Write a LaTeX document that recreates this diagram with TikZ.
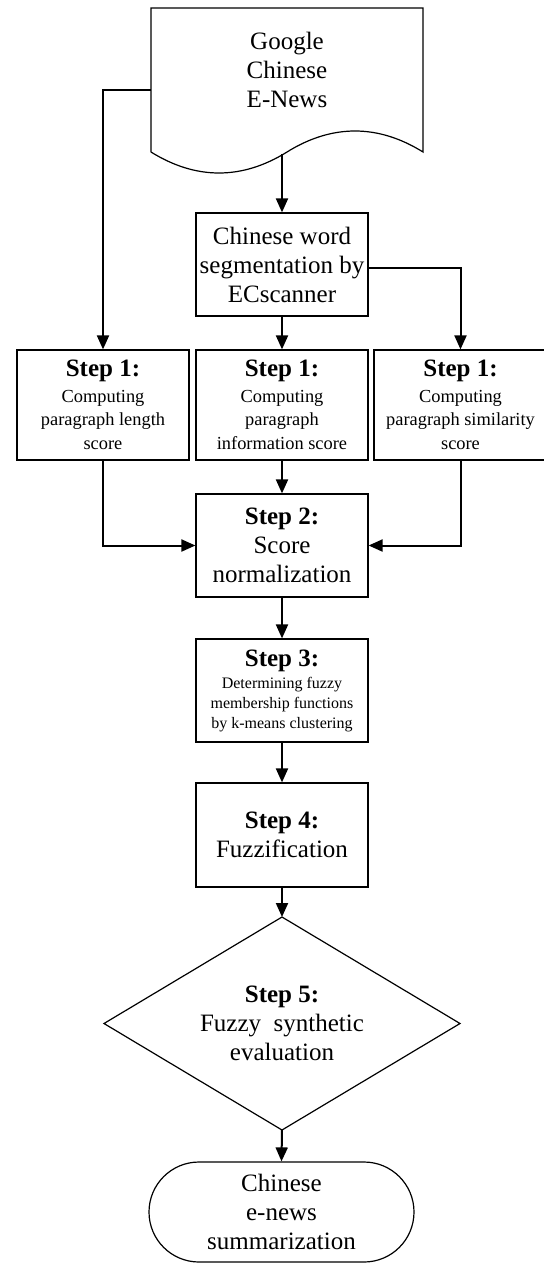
\documentclass[tikz,border=0pt]{standalone}
\usepackage{fontspec}
\setmainfont{Liberation Serif}
\usetikzlibrary{arrows.meta}

\newcommand{\bigtxt}{\fontsize{12.5}{14.5}\selectfont}
\newcommand{\smalltxt}{\fontsize{9.2}{11.8}\selectfont}
\newcommand{\tinytxt}{\fontsize{8}{10}\selectfont}
\newcommand{\steplabel}[1]{{\bigtxt\bfseries #1}}

\begin{document}
\begin{tikzpicture}
    [x = .5pt, y = -.5pt,
     box/.style = {draw, line width = .6pt, inner sep = 0pt, align = center,
                   minimum width = 86pt, minimum height = 51.5pt},
     line/.style = {line width = 1pt, -{Triangle[length = 7pt, width = 6pt]}}]
    \useasboundingbox (0,0) rectangle (544,1264);

    % news document
    \draw[line width = .6pt] (151,152) -- (151,8) -- (423,8) -- (423,152)
      .. controls (378,124) and (332,124) .. (287,152)
      .. controls (242,180) and (196,180) .. (151,152);
    \node[inner sep = 0pt, align = center, font = \bigtxt,
          minimum width = 136pt, minimum height = 72pt] (news) at (287,70)
      {Google\\Chinese\\E-News};
    \coordinate (newsout) at (282,154);

    \node[box, font = \bigtxt] (seg) at (282,264.5)
      {Chinese word\\segmentation by\\ECscanner};

    % step 1
    \node[box, minimum height = 55pt, font = \smalltxt] (len) at (103,405)
      {\steplabel{Step 1:}\\[1pt]Computing\\paragraph length\\score};
    \node[box, minimum height = 55pt, font = \smalltxt] (info) at (282,405)
      {\steplabel{Step 1:}\\[1pt]Computing\\paragraph\\information score};
    \node[box, minimum height = 55pt, minimum width = 86.5pt, font = \smalltxt] (sim) at (460.5,405)
      {\steplabel{Step 1:}\\[1pt]Computing\\paragraph similarity\\score};

    \node[box, font = \bigtxt] (norm) at (282,545.5)
      {\textbf{Step 2:}\\Score\\normalization};
    \node[box, font = \tinytxt] (member) at (282,690.5)
      {\steplabel{Step 3:}\\[1pt]Determining fuzzy\\membership functions\\by k-means clustering};
    \node[box, minimum height = 52pt, font = \bigtxt] (fuzz) at (282,835)
      {\textbf{Step 4:}\\Fuzzification};

    % step 5 decision
    \draw[line width = .6pt] (282,917) coordinate (evaltop) -- (460,1023.5)
      -- (282,1130) coordinate (evalbot) -- (104,1023.5) -- cycle;
    \node[inner sep = 0pt, align = center, font = \bigtxt] (eval) at (282,1023.5)
      {\textbf{Step 5:}\\Fuzzy\ \ synthetic\\evaluation};

    \node[draw, line width = .6pt, rounded corners = 25pt, inner sep = 0pt, align = center,
          font = \bigtxt, minimum width = 132.5pt, minimum height = 50pt] (summ) at (281.5,1212)
      {Chinese\\e-news\\summarization};

    \draw[line] ([yshift = -10pt]news.west) -| (len.north);
    \draw[line] (newsout) -- (seg.north);
    \draw[line] ([yshift = -1.5pt]seg.east) -| (sim.north);
    \draw[line] (seg.south) -- (info.north);
    \draw[line] (len.south) |- (norm.west);
    \draw[line] (sim.south) |- (norm.east);
    \foreach \from/\to in {info/norm, norm/member, member/fuzz}
      \draw[line] (\from.south) -- (\to.north);
    \draw[line] (fuzz.south) -- (evaltop);
    \draw[line] (evalbot) -- (summ.north);
  \end{tikzpicture}
\end{document}
